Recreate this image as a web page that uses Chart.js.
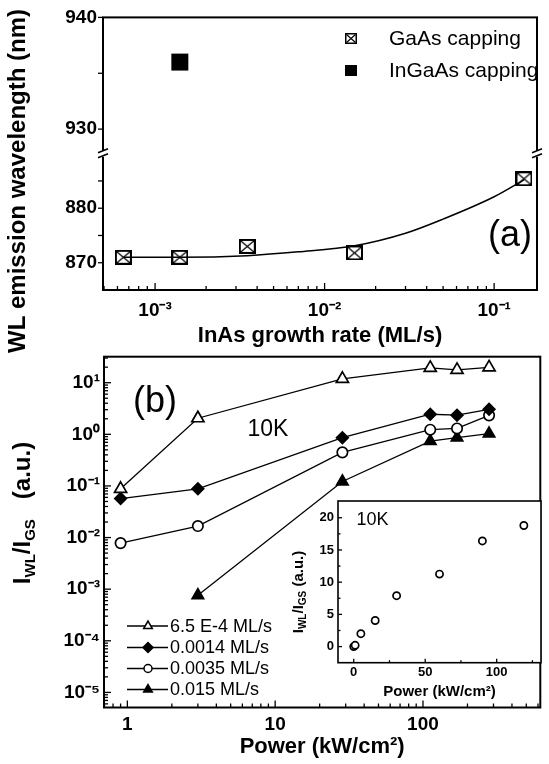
<!DOCTYPE html>
<html><head><meta charset="utf-8">
<script src="https://cdn.jsdelivr.net/npm/chart.js@4.4.1/dist/chart.umd.min.js"></script>
<style>
html,body{margin:0;padding:0;background:#fff;}
#wrap{position:relative;width:549px;height:764px;overflow:hidden;background:#fff;}
#wrap canvas{position:absolute;left:0;top:0;}
</style></head><body>
<div id="wrap">
<canvas id="cA" width="549" height="764"></canvas>
<canvas id="cB" width="549" height="764"></canvas>
<canvas id="cC" width="549" height="764"></canvas>
</div>
<script>
// ---------- Panel (a) data ----------
const rateGaAs   = [0.00065, 0.0014, 0.0035, 0.015, 0.15];
const wlGaAs     = [871, 871, 873, 871.8, 885.4];
const rateInGaAs = [0.0014];
const wlInGaAs   = [936];
const fitRate    = [0.00065, 0.0014, 0.0035, 0.007, 0.015, 0.03, 0.05, 0.1, 0.15];
const fitWl      = [871, 871, 871.3, 872, 873.1, 875.4, 878, 882.1, 885.2];
const xTicksA      = [0.001, 0.01, 0.1];
const xTickLabelsA = ['10\u207B\u00B3', '10\u207B\u00B2', '10\u207B\u00B9'];
const yTicksHigh   = [930, 935, 940];
const yLabelsHigh  = ['930', '', '940'];
const yTicksLow    = [870, 875, 880, 885];
const yLabelsLow   = ['870', '', '880', ''];
const legendA      = ['GaAs capping', 'InGaAs capping'];

// ---------- Panel (b) data ----------
const powerMain = [0.9, 3, 28.5, 112, 170, 280];
const ratio65e4 = [0.088, 2.05, 11.9, 19.4, 17.7, 19.8];
const ratio0014 = [0.057, 0.088, 0.86, 2.45, 2.35, 3.05];
const ratio0035 = [0.0078, 0.0167, 0.447, 1.23, 1.3, 2.33];
const ratio015  = [null, 0.00076, 0.122, 0.74, 0.86, 1.03];
const seriesLabelsB = ['6.5 E-4 ML/s', '0.0014 ML/s', '0.0035 ML/s', '0.015 ML/s'];
const yTicksB      = [1e-5, 1e-4, 1e-3, 1e-2, 1e-1, 1, 10];
const yTickLabelsB = ['10\u207B\u2075', '10\u207B\u2074', '10\u207B\u00B3', '10\u207B\u00B2', '10\u207B\u00B9', '10\u2070', '10\u00B9'];
const xTicksB      = [1, 10, 100];
const xTickLabelsB = ['1', '10', '100'];

// ---------- Inset data ----------
const powerInset = [0, 1, 5, 15, 30, 60, 90, 119];
const ratioInset = [0, 0.2, 2, 4.05, 7.9, 11.25, 16.4, 18.8];
const xTicksC  = [0, 50, 100];
const xMinorC  = [25, 75, 125];
const yTicksC  = [0, 5, 10, 15, 20];
const yMinorC  = [2.5, 7.5, 12.5, 17.5];

// ---------- helpers ----------
const FONT = '"Liberation Sans", Arial, Helvetica, sans-serif';
Chart.defaults.font.family = FONT;
Chart.defaults.color = '#000';
const NOGRID = { display: false, drawTicks: false, tickLength: 0 };

function zip(xs, ys) {
  const out = [];
  xs.forEach((x, i) => { if (ys[i] !== null && ys[i] !== undefined) out.push({x: x, y: ys[i]}); });
  return out;
}
function labelFor(vals, labels, v) {
  for (let i = 0; i < vals.length; i++) if (Math.abs(vals[i] - v) <= Math.abs(vals[i]) * 1e-6 + 1e-12) return labels[i];
  return '';
}
function logMinors(min, max) {
  const out = [];
  for (let e = Math.floor(Math.log10(min)); e <= Math.ceil(Math.log10(max)); e++) {
    for (let m = 2; m <= 9; m++) {
      const v = m * Math.pow(10, e);
      if (v >= min && v <= max) out.push(v);
    }
  }
  return out;
}
function setTicks(vals) { return s => { s.ticks = vals.map(v => ({value: v})); }; }

function boxX(w, h, lw) {
  const c = document.createElement('canvas'); c.width = w; c.height = h;
  const g = c.getContext('2d');
  g.fillStyle = '#fff'; g.fillRect(0, 0, w, h);
  g.strokeStyle = '#000'; g.lineWidth = lw;
  g.strokeRect(lw / 2, lw / 2, w - lw, h - lw);
  g.lineWidth = 1.2; g.beginPath();
  g.moveTo(lw, lw); g.lineTo(w - lw, h - lw);
  g.moveTo(w - lw, lw); g.lineTo(lw, h - lw);
  g.stroke();
  return c;
}
function solidBox(w, h) {
  const c = document.createElement('canvas'); c.width = w; c.height = h;
  const g = c.getContext('2d'); g.fillStyle = '#000'; g.fillRect(0, 0, w, h);
  return c;
}

// frame + tick marks plugin
function frameTicks(specs, lw) {
  return {
    id: 'frameTicks',
    afterDraw(chart) {
      const ctx = chart.ctx, ca = chart.chartArea;
      ctx.save();
      ctx.strokeStyle = '#000';
      ctx.lineWidth = 1.3;
      specs.forEach(s => {
        const sc = chart.scales[s.id];
        [[s.major, s.majorLen], [s.minor || [], s.minorLen]].forEach(([vals, len]) => {
          vals.forEach(v => {
            if (v < sc.min || v > sc.max) return;
            const p = sc.getPixelForValue(v);
            ctx.beginPath();
            if (sc.isHorizontal()) {
              ctx.moveTo(p, ca.bottom); ctx.lineTo(p, ca.bottom + (s.out ? len : -len));
            } else {
              ctx.moveTo(ca.left, p); ctx.lineTo(ca.left + (s.out ? -len : len), p);
            }
            ctx.stroke();
          });
        });
      });
      ctx.lineWidth = lw;
      ctx.strokeRect(ca.left, ca.top, ca.right - ca.left, ca.bottom - ca.top);
      ctx.restore();
    }
  };
}

function richText(ctx, segs, cx, cy, rot, base) {
  ctx.save();
  ctx.translate(cx, cy); ctx.rotate(rot);
  let total = 0;
  segs.forEach(s => { ctx.font = s.f; s.w = ctx.measureText(s.t).width; total += s.w; });
  let x = -total / 2;
  ctx.textAlign = 'left'; ctx.textBaseline = 'alphabetic'; ctx.fillStyle = '#000';
  segs.forEach(s => { ctx.font = s.f; ctx.fillText(s.t, x, base + (s.dy || 0)); x += s.w; });
  ctx.restore();
}
function plainText(ctx, t, x, y, font, align) {
  ctx.save(); ctx.font = font; ctx.fillStyle = '#000';
  ctx.textAlign = align || 'center'; ctx.textBaseline = 'middle';
  ctx.fillText(t, x, y); ctx.restore();
}

// ---------- Chart (a) ----------
const markGaAs = boxX(17, 15, 2);
const markGaAsSmall = boxX(12, 11, 1.5);
const markInGaAsSmall = solidBox(12, 11);

const annotA = {
  id: 'annotA',
  afterDraw(chart) {
    const ctx = chart.ctx, ca = chart.chartArea;
    const yb = chart.scales.yHigh.bottom;
    [ca.left, ca.right].forEach(x => {
      ctx.save();
      ctx.fillStyle = '#fff'; ctx.fillRect(x - 3, yb - 3, 6, 6);
      ctx.strokeStyle = '#000'; ctx.lineWidth = 1.6;
      ctx.beginPath();
      ctx.moveTo(x - 5, yb - 1); ctx.lineTo(x + 5, yb - 5);
      ctx.moveTo(x - 5, yb + 4); ctx.lineTo(x + 5, yb);
      ctx.stroke();
      ctx.restore();
    });
    ctx.save();
    ctx.translate(18, 181); ctx.rotate(-Math.PI / 2);
    ctx.font = 'bold 24px ' + FONT; ctx.fillStyle = '#000';
    ctx.textAlign = 'center'; ctx.textBaseline = 'middle';
    ctx.fillText('WL emission wavelength (nm)', 0, 0);
    ctx.restore();
    plainText(ctx, '(a)', 510, 236, '36px ' + FONT);
    ctx.drawImage(markGaAsSmall, 345, 33);
    ctx.drawImage(markInGaAsSmall, 345, 65);
    plainText(ctx, legendA[0], 389, 39, '21px ' + FONT, 'left');
    plainText(ctx, legendA[1], 389, 71, '21px ' + FONT, 'left');
  }
};

new Chart(document.getElementById('cA'), {
  type: 'line',
  data: {
    datasets: [
      { label: 'fit', data: zip(fitRate, fitWl), yAxisID: 'yLow',
        borderColor: '#000', borderWidth: 1.5, pointRadius: 0, fill: false,
        cubicInterpolationMode: 'monotone' },
      { label: legendA[0], data: zip(rateGaAs, wlGaAs), yAxisID: 'yLow', showLine: false,
        pointStyle: markGaAs, pointRadius: 8, clip: false },
      { label: legendA[1], data: zip(rateInGaAs, wlInGaAs), yAxisID: 'yHigh', showLine: false,
        pointStyle: 'rect', pointRadius: 12, pointBackgroundColor: '#000', pointBorderColor: '#000',
        pointBorderWidth: 0, clip: false }
    ]
  },
  options: {
    responsive: false, animation: false, devicePixelRatio: 1,
    layout: { padding: { top: 15, right: 2, left: 0, bottom: 0 } },
    plugins: { legend: { display: false }, tooltip: { enabled: false } },
    scales: {
      x: {
        type: 'logarithmic', min: 4.93e-4, max: 0.179,
        grid: NOGRID, border: { display: false },
        afterBuildTicks: setTicks(xTicksA),
        afterFit: s => { s.height = 764 - 290; },
        ticks: { font: { size: 19, weight: 'bold' }, color: '#000', padding: 9, autoSkip: false, maxRotation: 0,
                 callback: v => labelFor(xTicksA, xTickLabelsA, v) },
        title: { display: true, text: 'InAs growth rate (ML/s)', color: '#000',
                 font: { size: 22, weight: 'bold' }, padding: { top: 0, bottom: 764 - 13.2 - 336 } }
      },
      yLow: {
        type: 'linear', position: 'left', stack: 'wl', stackWeight: 1, min: 865, max: 890,
        grid: NOGRID, border: { display: false },
        afterBuildTicks: setTicks(yTicksLow),
        afterFit: s => { s.width = 103; },
        ticks: { font: { size: 19, weight: 'bold' }, color: '#000', padding: 6, autoSkip: false,
                 callback: v => labelFor(yTicksLow, yLabelsLow, v) }
      },
      yHigh: {
        type: 'linear', position: 'left', stack: 'wl', stackWeight: 1, min: 927.8, max: 940,
        grid: NOGRID, border: { display: false },
        afterBuildTicks: setTicks(yTicksHigh),
        afterFit: s => { s.width = 103; },
        ticks: { font: { size: 19, weight: 'bold' }, color: '#000', padding: 6, autoSkip: false,
                 callback: v => labelFor(yTicksHigh, yLabelsHigh, v) }
      }
    }
  },
  plugins: [
    frameTicks([
      { id: 'x', major: xTicksA, majorLen: 7, minor: logMinors(4.93e-4, 0.179), minorLen: 4 },
      { id: 'yLow', major: yTicksLow, majorLen: 5, out: true },
      { id: 'yHigh', major: yTicksHigh, majorLen: 5, out: true }
    ], 2),
    annotA
  ]
});

// ---------- Chart (b) ----------
const legendRowsB = [626, 647.5, 668.5, 689.5];
const annotB = {
  id: 'annotB',
  afterDraw(chart) {
    const ctx = chart.ctx;
    const big = 'bold 24px ' + FONT, sub = 'bold 15px ' + FONT;
    richText(ctx, [
      { t: 'I', f: big }, { t: 'WL', f: sub, dy: 5 }, { t: '/I', f: big }, { t: 'GS', f: sub, dy: 5 },
      { t: '   (a.u.)', f: big }
    ], 21, 513, -Math.PI / 2, 8.6);
    plainText(ctx, '(b)', 155, 402, '36px ' + FONT);
    plainText(ctx, '10K', 268, 430, '23px ' + FONT);
    chart.data.datasets.forEach((ds, i) => {
      const y = legendRowsB[i];
      ctx.save();
      ctx.strokeStyle = '#000'; ctx.lineWidth = 1.3;
      ctx.beginPath(); ctx.moveTo(127, y); ctx.lineTo(168, y); ctx.stroke();
      ctx.fillStyle = ds.pointBackgroundColor; ctx.strokeStyle = '#000'; ctx.lineWidth = 1.5;
      Chart.helpers.drawPoint(ctx, { pointStyle: ds.pointStyle, radius: ds.legendRadius, borderWidth: 1.5, rotation: 0 }, 148, y);
      ctx.restore();
      plainText(ctx, ds.label, 170, y + 1, '18px ' + FONT, 'left');
    });
  }
};

function seriesB(label, vals, style, r, fill, lr) {
  return { label: label, data: zip(powerMain, vals), borderColor: '#000', borderWidth: 1.3,
           pointStyle: style, pointRadius: r, pointBackgroundColor: fill, pointBorderColor: '#000',
           pointBorderWidth: 1.7, fill: false, tension: 0, clip: false, legendRadius: lr };
}

new Chart(document.getElementById('cB'), {
  type: 'line',
  data: {
    datasets: [
      seriesB(seriesLabelsB[0], ratio65e4, 'triangle', 7, '#fff', 5),
      seriesB(seriesLabelsB[1], ratio0014, 'rectRot', 5.8, '#000', 5),
      seriesB(seriesLabelsB[2], ratio0035, 'circle', 5.2, '#fff', 4),
      seriesB(seriesLabelsB[3], ratio015, 'triangle', 6.6, '#000', 5)
    ]
  },
  options: {
    responsive: false, animation: false, devicePixelRatio: 1,
    layout: { padding: { top: 356.7, right: 2, left: 0, bottom: 0 } },
    plugins: { legend: { display: false }, tooltip: { enabled: false } },
    scales: {
      x: {
        type: 'logarithmic', min: 0.695, max: 622,
        grid: NOGRID, border: { display: false },
        afterBuildTicks: setTicks(xTicksB),
        afterFit: s => { s.height = 764 - 707.5; },
        ticks: { font: { size: 19, weight: 'bold' }, color: '#000', padding: 6, autoSkip: false, maxRotation: 0,
                 callback: v => labelFor(xTicksB, xTickLabelsB, v) },
        title: { display: true, text: 'Power (kW/cm\u00B2)', color: '#000',
                 font: { size: 22, weight: 'bold' }, padding: { top: 0, bottom: 4 } }
      },
      y: {
        type: 'logarithmic', min: 5.1e-6, max: 31.9,
        grid: NOGRID, border: { display: false },
        afterBuildTicks: setTicks(yTicksB),
        afterFit: s => { s.width = 104; },
        ticks: { font: { size: 19, weight: 'bold' }, color: '#000', padding: 4, autoSkip: false,
                 callback: v => labelFor(yTicksB, yTickLabelsB, v) }
      }
    }
  },
  plugins: [
    frameTicks([
      { id: 'x', major: xTicksB, majorLen: 7, minor: logMinors(0.695, 622), minorLen: 4 },
      { id: 'y', major: yTicksB, majorLen: 7, minor: logMinors(5.1e-6, 31.9), minorLen: 4 }
    ], 2),
    annotB
  ]
});

// ---------- Inset ----------
const annotC = {
  id: 'annotC',
  beforeDatasetsDraw(chart) {
    const ctx = chart.ctx, ca = chart.chartArea;
    ctx.save(); ctx.fillStyle = '#fff';
    ctx.fillRect(ca.left, ca.top, ca.right - ca.left, ca.bottom - ca.top);
    ctx.restore();
  },
  afterDraw(chart) {
    const ctx = chart.ctx;
    const big = 'bold 15px ' + FONT, sub = 'bold 10px ' + FONT;
    richText(ctx, [
      { t: 'I', f: big }, { t: 'WL', f: sub, dy: 3 }, { t: '/I', f: big }, { t: 'GS', f: sub, dy: 3 },
      { t: ' (a.u.)', f: big }
    ], 298, 592, -Math.PI / 2, 5.4);
    plainText(ctx, '10K', 372.5, 520, '18px ' + FONT);
  }
};

new Chart(document.getElementById('cC'), {
  type: 'scatter',
  data: {
    datasets: [
      { label: '10K', data: zip(powerInset, ratioInset), showLine: false,
        pointStyle: 'circle', pointRadius: 3.6, pointBackgroundColor: '#fff',
        pointBorderColor: '#000', pointBorderWidth: 1.7, clip: false }
    ]
  },
  options: {
    responsive: false, animation: false, devicePixelRatio: 1,
    layout: { padding: { top: 501, right: 8, left: 0, bottom: 0 } },
    plugins: { legend: { display: false }, tooltip: { enabled: false } },
    scales: {
      x: {
        type: 'linear', min: -11, max: 131,
        grid: NOGRID, border: { display: false },
        afterBuildTicks: setTicks(xTicksC),
        afterFit: s => { s.height = 764 - 662.7; },
        ticks: { font: { size: 13, weight: 'bold' }, color: '#000', padding: 2, autoSkip: false, maxRotation: 0 },
        title: { display: true, text: 'Power (kW/cm\u00B2)', color: '#000',
                 font: { size: 15, weight: 'bold' }, padding: { top: 0, bottom: 764 - 9 - 691.7 } }
      },
      y: {
        type: 'linear', min: -2.5, max: 22.6,
        grid: NOGRID, border: { display: false },
        afterBuildTicks: setTicks(yTicksC),
        afterFit: s => { s.width = 338; },
        ticks: { font: { size: 13, weight: 'bold' }, color: '#000', padding: 4, autoSkip: false }
      }
    }
  },
  plugins: [
    annotC,
    frameTicks([
      { id: 'x', major: xTicksC, majorLen: 4, minor: xMinorC, minorLen: 2.5 },
      { id: 'y', major: yTicksC, majorLen: 4, minor: yMinorC, minorLen: 2.5 }
    ], 1.6)
  ]
});
</script>
</body></html>
